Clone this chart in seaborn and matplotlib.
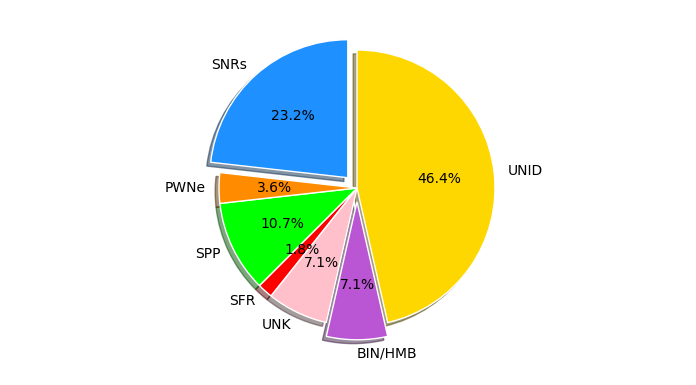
import matplotlib
matplotlib.use("Agg")
import matplotlib.pyplot as plt
import seaborn as sns

labels = ["UNID", "BIN/HMB", "UNK", "SFR", "SPP", "PWNe", "SNRs"]
counts = [26, 4, 4, 1, 6, 2, 13]
colors = ["gold", "mediumorchid", "pink", "red", "lime", "darkorange", "dodgerblue"]
explode = [0, 0.1, 0, 0, 0, 0, 0.1]

sns.set_style("white")
plt.rcParams["font.family"] = ["DejaVu Sans"]
plt.rcParams["text.color"] = "black"

fig = plt.figure(figsize=(6.96, 3.85), dpi=100)
ax = fig.add_axes([0, 0, 1, 1])
ax.pie(counts, labels=labels, colors=colors, explode=explode,
       autopct="%1.1f%%", shadow=True, startangle=90, counterclock=False,
       textprops={"fontsize": 10})
s = 138.0
cx, cy = 357.0, 188.0
ax.set_xlim(-cx / s, (696 - cx) / s)
ax.set_ylim(-(385 - cy) / s, cy / s)
ax.axis("off")
fig.savefig("out.png", dpi=100)
